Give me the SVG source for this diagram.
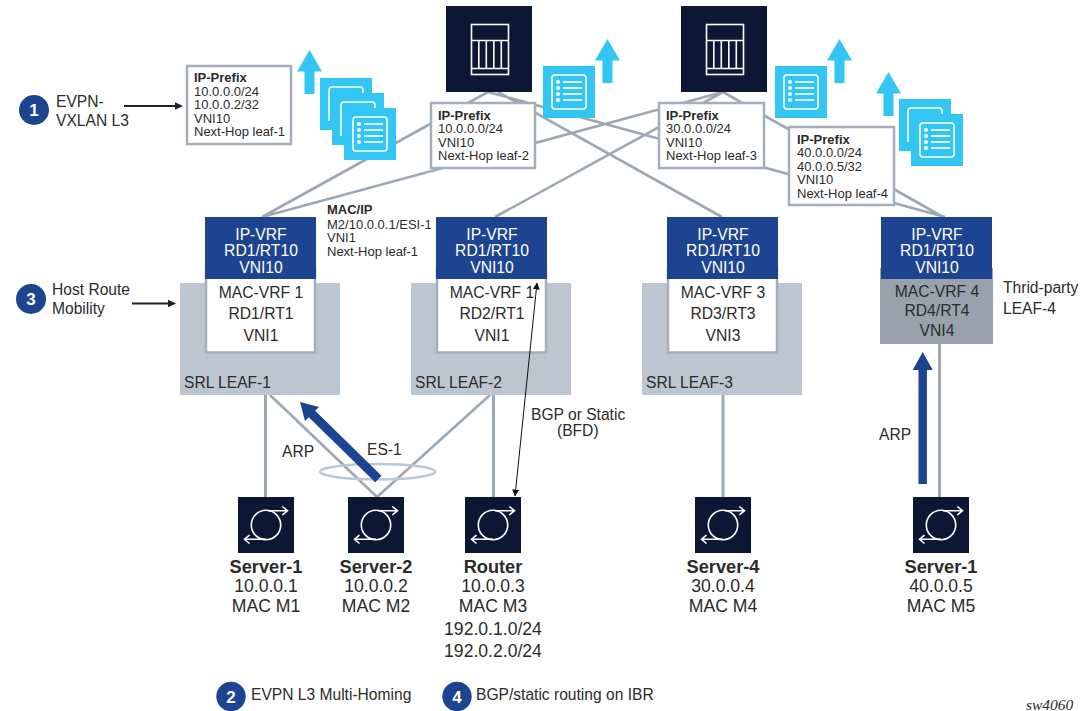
<svg xmlns="http://www.w3.org/2000/svg" width="1092" height="711" viewBox="0 0 1092 711">
<style>
text{font-family:"Liberation Sans",Arial,sans-serif;fill:#2b2b2b}
.p{font-size:13px}.b{font-weight:bold}
.v{font-size:15.7px;text-anchor:middle}
.w{fill:#fff}
.l{font-size:15.6px}
.s{font-size:17.6px;text-anchor:middle}
.s.b{font-size:18.2px}
.box{fill:#fff;stroke:#A5AEB9;stroke-width:2.5}
.lk{stroke:#9DA8B4;stroke-width:2.6;fill:none}
.lv{stroke:#9DA8B4;stroke-width:3;fill:none}
.blue{fill:#1D4490}.sky{fill:#33C6F4}.navy{fill:#0C1735}
.srl{fill:#BBC6D1}
.ic{fill:none;stroke:#fff;stroke-width:1.6}
.num{font-size:17px;font-weight:bold;fill:#fff;text-anchor:middle}
</style>
<defs>
<g id="doc"><rect class="sky" width="52" height="52"/><rect class="ic" x="9" y="9" width="34" height="34" rx="3"/><g fill="#fff"><circle cx="15" cy="16" r="2"/><circle cx="15" cy="22" r="2"/><circle cx="15" cy="28" r="2"/><circle cx="15" cy="34" r="2"/><rect x="20" y="15.200" width="19" height="1.600"/><rect x="20" y="21.200" width="19" height="1.600"/><rect x="20" y="27.200" width="19" height="1.600"/><rect x="20" y="33.200" width="19" height="1.600"/></g></g>
<g id="docb"><rect class="sky" width="52" height="52"/><path class="ic" d="M9 43V12a3 3 0 0 1 3-3h28a3 3 0 0 1 3 3v6"/></g>
<path id="up" class="sky" d="M12.500 0L25 21.500H17.500V44H7.500V21.500H0Z"/>
<g id="spine"><rect class="navy" width="86" height="86"/><g class="ic"><rect x="25.500" y="18.500" width="37" height="50"/><path d="M25.500 34.500H62.500M25.500 62.500H62.500M32.800 34.500V62.500M40.300 34.500V62.500M47.800 34.500V62.500M55.300 34.500V62.500"/></g></g>
<g id="srv"><rect class="navy" width="56" height="56"/><g class="ic"><circle cx="28" cy="28" r="14.700"/><path d="M30 13.700H49M44.300 9.500L49.500 13.700L44.300 18M28 42.300H7M11.500 38L6.500 42.300L11.500 46.500"/></g></g>
<marker id="ah" markerWidth="8" markerHeight="8" refX="6.500" refY="3.500" orient="auto-start-reverse" markerUnits="userSpaceOnUse"><path d="M0 0L7 3.500L0 7Z" fill="#111"/></marker>
<marker id="ahb" markerWidth="10" markerHeight="10" refX="0.500" refY="4" orient="auto" markerUnits="userSpaceOnUse"><path d="M0 0L8.500 4L0 8Z" fill="#222"/></marker>
</defs>

<g id="connectors">
<path class="lk" d="M488 92L262 217M262 217L723 92M495 217L723 92M498 92L722 217M488 92L945 217M723 92L943 217"/>
<path class="lv" d="M265.500 395V497M493.500 395V497M723 395V497M939.500 344V497"/>
<path class="lk" d="M270 395L377 497M490 395L377 497"/>
</g>

<g id="spine-1"><use href="#spine" x="446" y="6"/></g>
<g id="spine-2"><use href="#spine" x="681" y="6"/></g>

<g id="docs-1"><use href="#docb" x="320" y="78"/><use href="#docb" x="332" y="93"/><use href="#doc" x="344" y="108"/><use href="#up" x="297" y="50"/></g>
<g id="docs-2"><use href="#doc" x="543" y="66"/><use href="#up" x="595" y="39"/></g>
<g id="docs-3"><use href="#doc" x="775" y="66"/><use href="#up" x="827" y="39"/></g>
<g id="docs-4"><use href="#docb" x="899" y="99"/><use href="#doc" x="911" y="114"/><use href="#up" x="876" y="72"/></g>

<g id="prefix-1"><rect class="box" x="187" y="66" width="104" height="78"/>
<text class="p b" x="194" y="82">IP-Prefix</text><text class="p" x="194" y="96">10.0.0.0/24</text><text class="p" x="194" y="109">10.0.0.2/32</text><text class="p" x="194" y="123">VNI10</text><text class="p" x="194" y="136">Next-Hop leaf-1</text></g>
<g id="prefix-2"><rect class="box" x="431" y="103" width="104" height="65"/>
<text class="p b" x="438" y="120">IP-Prefix</text><text class="p" x="438" y="133">10.0.0.0/24</text><text class="p" x="438" y="147">VNI10</text><text class="p" x="438" y="160">Next-Hop leaf-2</text></g>
<g id="prefix-3"><rect class="box" x="659" y="103" width="105" height="65"/>
<text class="p b" x="666" y="120">IP-Prefix</text><text class="p" x="666" y="133">30.0.0.0/24</text><text class="p" x="666" y="147">VNI10</text><text class="p" x="666" y="160">Next-Hop leaf-3</text></g>
<g id="prefix-4"><rect class="box" x="789" y="127" width="105" height="78"/>
<text class="p b" x="797" y="144">IP-Prefix</text><text class="p" x="797" y="157">40.0.0.0/24</text><text class="p" x="797" y="171">40.0.0.5/32</text><text class="p" x="797" y="184">VNI10</text><text class="p" x="797" y="198">Next-Hop leaf-4</text></g>

<g id="macip"><text class="p b" x="327" y="214">MAC/IP</text><text class="p" x="327" y="229">M2/10.0.0.1/ESI-1</text><text class="p" x="327" y="242">VNI1</text><text class="p" x="327" y="256">Next-Hop leaf-1</text></g>

<g id="leaf-1"><rect class="srl" x="180" y="283" width="160" height="112"/><rect class="box" x="206" y="268" width="109" height="84.500"/><rect class="blue" x="205" y="217" width="111" height="62"/>
<text class="v w" x="261" y="240">IP-VRF</text><text class="v w" x="261" y="256">RD1/RT10</text><text class="v w" x="261" y="273">VNI10</text>
<text class="v" x="261" y="298">MAC-VRF 1</text><text class="v" x="261" y="319">RD1/RT1</text><text class="v" x="261" y="341">VNI1</text><text class="l" x="184" y="388">SRL LEAF-1</text></g>
<g id="leaf-2"><rect class="srl" x="411" y="283" width="160" height="112"/><rect class="box" x="437" y="268" width="109" height="84.500"/><rect class="blue" x="436" y="217" width="111" height="62"/>
<text class="v w" x="492" y="240">IP-VRF</text><text class="v w" x="492" y="256">RD1/RT10</text><text class="v w" x="492" y="273">VNI10</text>
<text class="v" x="492" y="298">MAC-VRF 1</text><text class="v" x="492" y="319">RD2/RT1</text><text class="v" x="492" y="341">VNI1</text><text class="l" x="415" y="388">SRL LEAF-2</text></g>
<g id="leaf-3"><rect class="srl" x="642" y="283" width="160" height="112"/><rect class="box" x="668" y="268" width="109" height="84.500"/><rect class="blue" x="667" y="217" width="111" height="62"/>
<text class="v w" x="723" y="240">IP-VRF</text><text class="v w" x="723" y="256">RD1/RT10</text><text class="v w" x="723" y="273">VNI10</text>
<text class="v" x="723" y="298">MAC-VRF 3</text><text class="v" x="723" y="319">RD3/RT3</text><text class="v" x="723" y="341">VNI3</text><text class="l" x="646" y="388">SRL LEAF-3</text></g>
<g id="leaf-4"><rect x="880" y="268" width="113" height="76" fill="#98A1AC"/><rect class="blue" x="881" y="217" width="111" height="62"/>
<text class="v w" x="937" y="240">IP-VRF</text><text class="v w" x="937" y="256">RD1/RT10</text><text class="v w" x="937" y="273">VNI10</text>
<text class="v" x="937" y="297">MAC-VRF 4</text><text class="v" x="937" y="316">RD4/RT4</text><text class="v" x="937" y="336">VNI4</text>
<text class="l" x="1003" y="293">Thrid-party</text><text class="l" x="1003" y="314">LEAF-4</text></g>

<g id="es-1"><ellipse cx="377.700" cy="471.700" rx="57.500" ry="7.700" fill="none" stroke="#BCC7D3" stroke-width="2.500"/><text class="l" x="367" y="455">ES-1</text></g>
<path id="arrow-es" class="blue" d="M300 402L319 407L315.200 410.800L381.500 475.800L375.200 482.200L308.800 417.200L305 421Z"/>
<path id="arrow-leaf4" class="blue" d="M922.700 352L932.700 370H926.900V484H918.500V370H912.700Z"/>
<path id="bgp-link" d="M515 496L537 283" stroke="#111" stroke-width="1" fill="none" marker-start="url(#ah)" marker-end="url(#ah)"/>

<g id="labels"><text class="l" x="282" y="457">ARP</text><text class="l" x="879" y="440">ARP</text>
<text class="l" x="531" y="420">BGP or Static</text><text class="l" x="557" y="436">(BFD)</text></g>

<g id="server-1"><use href="#srv" x="238" y="497"/><text class="s b" x="266" y="573">Server-1</text><text class="s" x="266" y="592">10.0.0.1</text><text class="s" x="266" y="612">MAC M1</text></g>
<g id="server-2"><use href="#srv" x="348" y="497"/><text class="s b" x="376" y="573">Server-2</text><text class="s" x="376" y="592">10.0.0.2</text><text class="s" x="376" y="612">MAC M2</text></g>
<g id="router"><use href="#srv" x="465" y="497"/><text class="s b" x="493" y="573">Router</text><text class="s" x="493" y="592">10.0.0.3</text><text class="s" x="493" y="612">MAC M3</text><text class="s" x="493" y="635">192.0.1.0/24</text><text class="s" x="493" y="657">192.0.2.0/24</text></g>
<g id="server-4"><use href="#srv" x="695" y="497"/><text class="s b" x="723" y="573">Server-4</text><text class="s" x="723" y="592">30.0.0.4</text><text class="s" x="723" y="612">MAC M4</text></g>
<g id="server-5"><use href="#srv" x="913" y="497"/><text class="s b" x="941" y="573">Server-1</text><text class="s" x="941" y="592">40.0.0.5</text><text class="s" x="941" y="612">MAC M5</text></g>

<g id="callout-1"><circle class="blue" cx="34" cy="110" r="15"/><text class="num" x="34" y="116">1</text><text class="l" x="56" y="106.500">EVPN-</text><text class="l" x="56" y="125.500">VXLAN L3</text><path d="M124 106H175" stroke="#222" stroke-width="2" marker-end="url(#ahb)"/></g>
<g id="callout-3"><circle class="blue" cx="31" cy="299" r="15"/><text class="num" x="31" y="305">3</text><text class="l" x="52" y="295">Host Route</text><text class="l" x="52" y="314">Mobility</text><path d="M132 303.500H168" stroke="#222" stroke-width="2" marker-end="url(#ahb)"/></g>
<g id="callout-2"><circle class="blue" cx="231" cy="696.500" r="14.700"/><text class="num" x="231" y="702.500">2</text><text class="l" x="251" y="700">EVPN L3 Multi-Homing</text></g>
<g id="callout-4"><circle class="blue" cx="457" cy="696.500" r="14.700"/><text class="num" x="457" y="702.500">4</text><text class="l" x="476" y="700">BGP/static routing on IBR</text></g>
<text x="1026" y="710" style="font-family:'Liberation Serif',serif;font-style:italic;font-size:15.5px">sw4060</text>
</svg>
